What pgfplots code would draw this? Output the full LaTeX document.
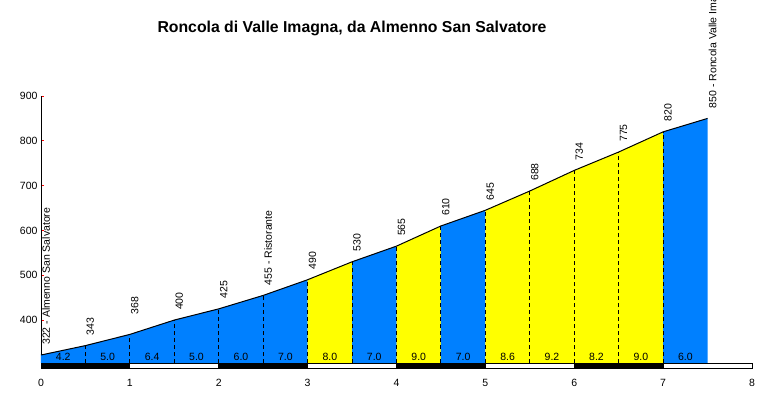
\documentclass[border=0pt]{standalone}
\usepackage{fontspec}
\setmainfont{Liberation Sans}
\usepackage{pgfplots}
\usepackage{pgfplotstable}
\pgfplotsset{compat=1.18}
\definecolor{pblue}{RGB}{0,128,255}
\definecolor{pyellow}{RGB}{255,255,0}

% x, elevation, label anchor height, label
\pgfplotstableread[col sep=comma,row sep=\\]{
x,y,ly,label\\
0,322,322,322 - Almenno San Salvatore\\
0.5,343,343,343\\
1,368,390,368\\
1.5,400,400,400\\
2,425,425,425\\
2.5,455,455,455 - Ristorante\\
3,490,490,490\\
3.5,530,530,530\\
4,565,565,565\\
4.5,610,610,610\\
5,645,645,645\\
5.5,688,688,688\\
6,734,734,734\\
6.5,775,775,775\\
7,820,820,820\\
7.5,850,850,850 - Roncola Valle Imagna\\
}\elev

\pgfplotstableread[col sep=comma,row sep=\\]{
x,y,label\\
0.25,304,4.2\\
0.75,304,5.0\\
1.25,304,6.4\\
1.75,304,5.0\\
2.25,304,6.0\\
2.75,304,7.0\\
3.25,304,8.0\\
3.75,304,7.0\\
4.25,304,9.0\\
4.75,304,7.0\\
5.25,304,8.6\\
5.75,304,9.2\\
6.25,304,8.2\\
6.75,304,9.0\\
7.25,304,6.0\\
}\grad

\begin{document}
\begin{tikzpicture}
\begin{axis}[
  at={(0,0)}, anchor=south west,
  scale only axis, width=711pt, height=272pt,
  xmin=0, xmax=8, ymin=293, ymax=900,
  axis lines*=left,
  x axis line style={draw=none},
  y axis line style={black, line width=0.8pt},
  xtick={0,1,...,8}, ytick={400,500,...,900},
  xtick style={draw=none},
  ytick style={red, line width=0.8pt},
  major tick length=3pt, tick align=inside,
  clip=false,
  /pgf/number format/assume math mode=true,
  ticklabel style={font=\fontsize{10.5}{12}\selectfont},
  xticklabel style={yshift=-8pt},
]
% coloured areas
\addplot[fill=pblue, draw=none] coordinates {(0,304) (0,322) (0.5,343) (1,368) (1.5,400) (2,425) (2.5,455) (3,490) (3,304)} --cycle;
\addplot[fill=pyellow, draw=none] coordinates {(3,304) (3,490) (3.5,530) (3.5,304)} --cycle;
\addplot[fill=pblue, draw=none] coordinates {(3.5,304) (3.5,530) (4,565) (4,304)} --cycle;
\addplot[fill=pyellow, draw=none] coordinates {(4,304) (4,565) (4.5,610) (4.5,304)} --cycle;
\addplot[fill=pblue, draw=none] coordinates {(4.5,304) (4.5,610) (5,645) (5,304)} --cycle;
\addplot[fill=pyellow, draw=none] coordinates {(5,304) (5,645) (5.5,688) (6,734) (6.5,775) (7,820) (7,304)} --cycle;
\addplot[fill=pblue, draw=none] coordinates {(7,304) (7,820) (7.5,850) (7.5,304)} --cycle;
% dashed separators
\pgfplotsset{sep/.style={black, line width=0.9pt, dash pattern=on 4pt off 3pt}}
\addplot[sep] coordinates {(0.5,304) (0.5,343)};
\addplot[sep] coordinates {(1,304) (1,368)};
\addplot[sep] coordinates {(1.5,304) (1.5,400)};
\addplot[sep] coordinates {(2,304) (2,425)};
\addplot[sep] coordinates {(2.5,304) (2.5,455)};
\addplot[sep] coordinates {(3,304) (3,490)};
\addplot[sep] coordinates {(3.5,304) (3.5,530)};
\addplot[sep] coordinates {(4,304) (4,565)};
\addplot[sep] coordinates {(4.5,304) (4.5,610)};
\addplot[sep] coordinates {(5,304) (5,645)};
\addplot[sep] coordinates {(5.5,304) (5.5,688)};
\addplot[sep] coordinates {(6,304) (6,734)};
\addplot[sep] coordinates {(6.5,304) (6.5,775)};
\addplot[sep] coordinates {(7,304) (7,820)};
% profile line
\addplot[black, line width=1pt] table[x=x, y=y] {\elev};
% km strip
\addplot[fill=white, draw=black, line width=0.8pt] coordinates {(0,293) (8,293) (8,304) (0,304)} --cycle;
\addplot[fill=black, draw=black, line width=0.8pt] coordinates {(0,293) (1,293) (1,304) (0,304)} --cycle;
\addplot[fill=black, draw=black, line width=0.8pt] coordinates {(2,293) (3,293) (3,304) (2,304)} --cycle;
\addplot[fill=black, draw=black, line width=0.8pt] coordinates {(4,293) (5,293) (5,304) (4,304)} --cycle;
\addplot[fill=black, draw=black, line width=0.8pt] coordinates {(6,293) (7,293) (7,304) (6,304)} --cycle;
% elevation labels
\addplot[draw=none, mark=none, nodes near coords, point meta=explicit symbolic,
  every node near coord/.append style={xshift=1pt, yshift=10pt, rotate=90, anchor=north west, inner sep=0pt, font=\fontsize{10.5}{12}\selectfont}]
  table[x=x, y=ly, meta=label] {\elev};
% gradient labels
\addplot[draw=none, mark=none, nodes near coords, point meta=explicit symbolic,
  every node near coord/.append style={yshift=3pt, anchor=base, inner sep=0pt, font=\fontsize{10.5}{12}\selectfont}]
  table[x=x, y=y, meta=label] {\grad};
\end{axis}
\node[font=\bfseries\fontsize{15.8}{18}\selectfont] at (311pt,340pt) {Roncola di Valle Imagna, da Almenno San Salvatore};
\pgfresetboundingbox
\useasboundingbox (-41pt,-24pt) rectangle (739pt,368pt);
\end{tikzpicture}
\end{document}
